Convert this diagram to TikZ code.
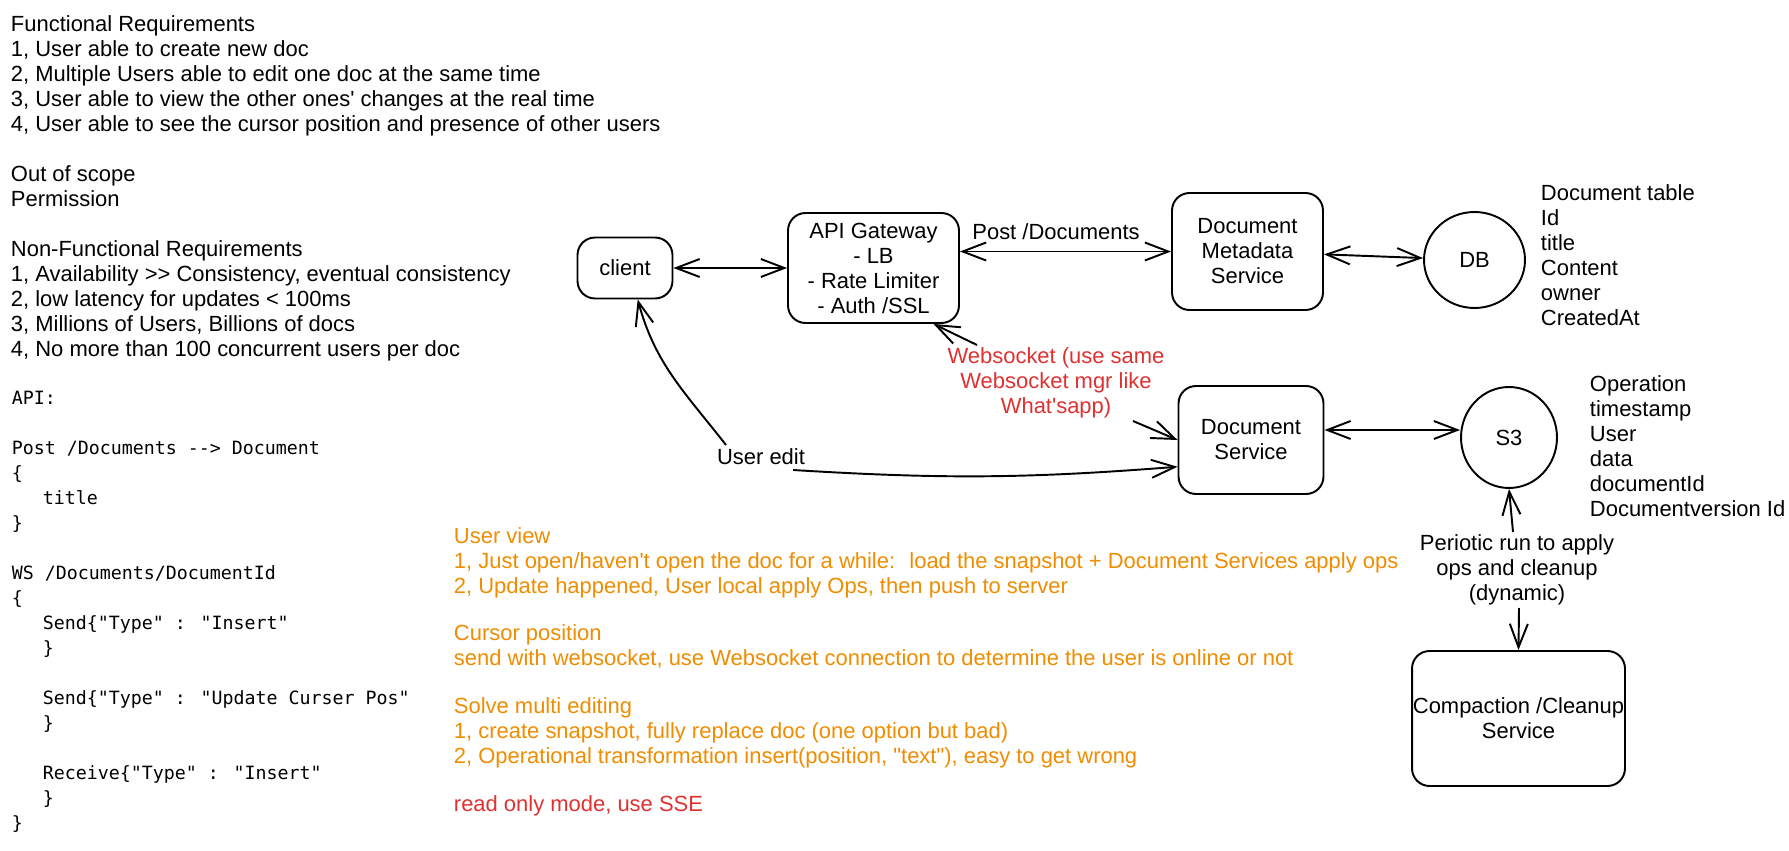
\documentclass[tikz,border=0pt]{standalone}
\usepackage{fontspec}
\setmainfont{Liberation Sans}[Ligatures=TeXOff]
\newfontfamily\codefont{DejaVu Sans Mono}[Ligatures=TeXOff]
\usetikzlibrary{arrows.meta,shapes.geometric}
\definecolor{notecol}{HTML}{F08C00}
\definecolor{warncol}{HTML}{E03131}
\def\handtxt{\fontsize{12.5}{14.23}\selectfont}
\def\codetxt{\codefont\fontsize{10.4}{14.23}\selectfont}
\def\ind{\hspace*{.62cm}}

\begin{document}
\begin{tikzpicture}[x=0.02cm,y=-0.02cm,line width=1.1pt,
	>={Straight Barb[length=4.7mm,width=3.6mm]},
	box/.style={draw,rounded corners=0.35cm,align=center,font=\handtxt,inner sep=0pt},
	store/.style={draw,ellipse,font=\handtxt,inner sep=0pt},
	txt/.style={anchor=north west,align=left,inner sep=0pt,font=\handtxt},
	lbl/.style={align=center,inner sep=0pt,font=\handtxt}]
				\useasboundingbox (0,0) rectangle (1789,851);
				
				\node[txt] (freq) at (10,15) {Functional Requirements\\1, User able to create new doc\\2, Multiple Users able to edit one doc at the same time\\3, User able to view the other ones' changes at the real time\\4, User able to see the cursor position and presence of other users};
				\node[txt] (scope) at (10,165) {Out of scope\\Permission};
				\node[txt] (nfr) at (10,240) {Non-Functional Requirements\\1, Availability >> Consistency, eventual consistency\\2, low latency for updates < 100ms\\3, Millions of Users, Billions of docs\\4, No more than 100 concurrent users per doc};
				\node[txt,font=\codetxt] (apis) at (11,390) {API:\\[0.5cm]Post /Documents --> Document\\\{\\\ind title\\\}\\[0.5cm]WS /Documents/DocumentId\\\{\\\ind Send\{"Type" : "Insert"\\\ind \}\\[0.5cm]\ind Send\{"Type" : "Update Curser Pos"\\\ind \}\\[0.5cm]\ind Receive\{"Type" : "Insert"\\\ind \}\\\}};
				
				\node[txt,text=notecol] (uview) at (453,527) {User view\\1, Just open/haven't open the doc for a while:~ load the snapshot + Document Services apply ops\\2, Update happened, User local apply Ops, then push to server};
				\node[txt,text=notecol] (cursor) at (453,624) {Cursor position\\send with websocket, use Websocket connection to determine the user is online or not};
				\node[txt,text=notecol] (multi) at (453,697) {Solve multi editing\\1, create snapshot, fully replace doc (one option but bad)\\2, Operational transformation insert(position, "text"), easy to get wrong};
				\node[txt,text=warncol] (sse) at (453,795) {read only mode, use SSE};
				
				\node[box,minimum width=1.9cm,minimum height=1.22cm] (client) at (625,268) {client};
				\node[box,minimum width=3.42cm,minimum height=2.2cm] (api) at (873.5,268) {API Gateway\\- LB\\- Rate Limiter\\- Auth /SSL};
				\node[box,minimum width=3.02cm,minimum height=2.34cm] (meta) at (1247.5,251.5) {Document\\Metadata\\Service};
				\node[store,minimum width=2.02cm,minimum height=1.92cm] (db) at (1474.5,260) {DB};
				\node[box,minimum width=2.9cm,minimum height=2.16cm] (docsvc) at (1251,440) {Document\\Service};
				\node[store,minimum width=1.92cm,minimum height=2.02cm] (s3) at (1509,437.5) {S3};
				\node[box,minimum width=4.26cm,minimum height=2.7cm] (compact) at (1518.5,718.5) {Compaction /Cleanup\\Service};
				
				\node[txt] (dbcols) at (1540,184) {Document table\\Id\\title\\Content\\owner\\CreatedAt};
				\node[txt] (s3cols) at (1589,375) {Operation\\timestamp\\User\\data\\documentId\\Documentversion Id};
				
				\node[lbl] (postlbl) at (1056,232) {Post /Documents};
				\node[lbl,text=warncol] (wslbl) at (1056,383) {Websocket (use same\\Websocket mgr like\\What'sapp)};
				\node[lbl] (uelbl) at (761,457) {User edit};
				\node[lbl] (perlbl) at (1517,570) {Periotic run to apply\\ops and cleanup\\(dynamic)};
				
				\coordinate (ws1) at (977,345);
				\coordinate (ws2) at (1133,421);
				\coordinate (ue1) at (726,445);
				\coordinate (ue2) at (793,470);
				\coordinate (pr1) at (1513,532);
				\coordinate (pr2) at (1519,608);
				
				\draw[<->] (client) -- (api);
				\draw[<->] (api.east |- meta.west) -- (meta.west);
				\draw[<->] (meta) -- (db);
				\draw[<->] ([yshift=0.2cm]docsvc.east) -- ([yshift=0.15cm]s3.west);
				\draw[->] (ws1) -- (api.-43);
				\draw[->] (ws2) -- (docsvc.west);
				\draw[->] (ue1) to[out=128,in=-75] (client.-68);
				\draw[->] (ue2) to[bend right=4] (docsvc.200);
				\draw[->] (pr1) -- (s3.south);
				\draw[->] (pr2) -- (compact.north);
			\end{tikzpicture}
\end{document}
